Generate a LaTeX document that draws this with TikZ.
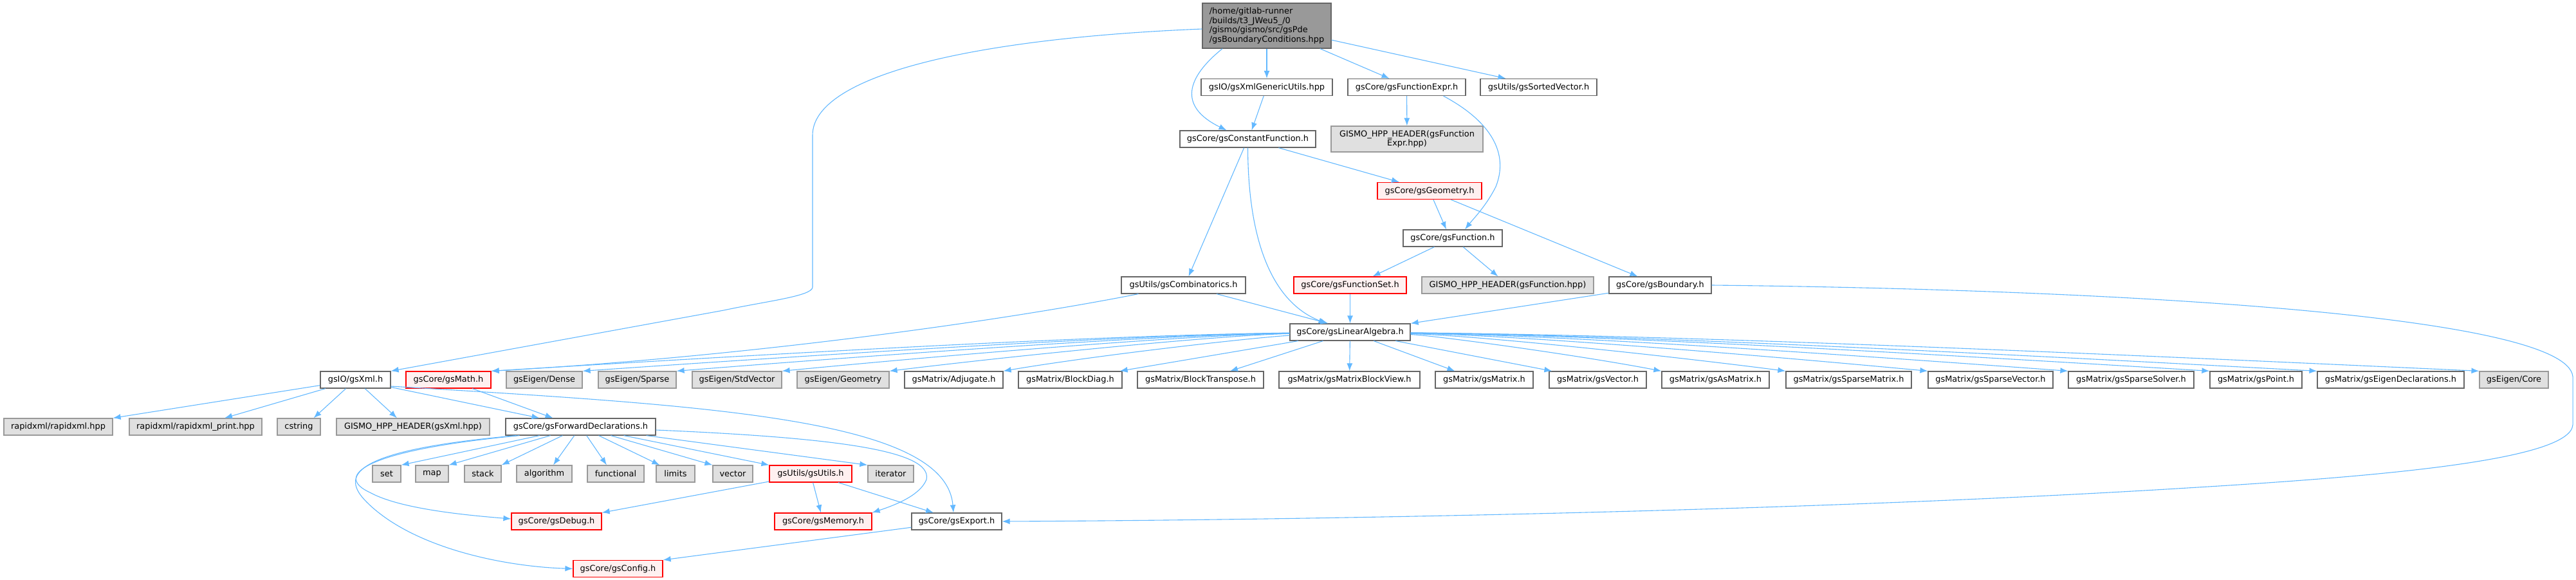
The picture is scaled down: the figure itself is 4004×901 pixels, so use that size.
\documentclass[tikz,border=0pt]{standalone}
\usepackage{fontspec}
\setmainfont{DejaVu Sans}
\usetikzlibrary{arrows.meta}
\definecolor{edgec}{HTML}{63B8FF}
\definecolor{bgray}{HTML}{666666}
\definecolor{extfill}{HTML}{E0E0E0}
\definecolor{extdraw}{HTML}{999999}
\definecolor{mainfill}{HTML}{999999}
\definecolor{redfill}{HTML}{FFF0F0}
\begin{document}
\begin{tikzpicture}[x=1pt,y=-1pt,
  base/.style={rectangle, inner sep=0pt, minimum height=26pt, line width=1.2pt, font=\fontsize{12.9}{14.6}\selectfont, anchor=center},
  std/.style={base, draw=bgray, fill=white},
  ext/.style={base, draw=extdraw, fill=extfill},
  trunc/.style={base, draw=red, fill=redfill},
  mainn/.style={base, draw=bgray, fill=mainfill, align=left},
  e/.style={draw=edgec, line width=1.1pt, -{Latex[length=12pt,width=9pt]}},
]
\useasboundingbox (0,0) rectangle (4004,901);
% row 0
\node[mainn, minimum width=200pt, minimum height=70pt] (m) at (1969,40) {/home/gitlab-runner\\/builds/t3\_JWeu5\_/0\\/gismo/gismo/src/gsPde\\/gsBoundaryConditions.hpp};
% row 1
\node[std, minimum width=204pt] (gxg) at (1969,135.5) {gsIO/gsXmlGenericUtils.hpp};
\node[std, minimum width=183pt] (fe) at (2186.5,135.5) {gsCore/gsFunctionExpr.h};
\node[std, minimum width=181pt] (sv) at (2391.5,135.5) {gsUtils/gsSortedVector.h};
% row 2
\node[std, minimum width=211pt] (cf) at (1939.5,216) {gsCore/gsConstantFunction.h};
\node[ext, minimum width=236pt, minimum height=40pt, align=center] (feh) at (2187,216) {GISMO\_HPP\_HEADER(gsFunction\\Expr.hpp)};
\node[trunc, minimum width=162pt] (geom) at (2222,296.5) {gsCore/gsGeometry.h};
\node[std, minimum width=154pt] (fn) at (2258,370) {gsCore/gsFunction.h};
\node[std, minimum width=193pt] (gc) at (1839.5,443) {gsUtils/gsCombinatorics.h};
\node[trunc, minimum width=175pt] (fs) at (2098.5,443) {gsCore/gsFunctionSet.h};
\node[ext, minimum width=267pt] (fnh) at (2343.5,443) {GISMO\_HPP\_HEADER(gsFunction.hpp)};
\node[std, minimum width=159pt] (bnd) at (2580.5,443) {gsCore/gsBoundary.h};
\node[std, minimum width=187pt] (la) at (2098.5,516) {gsCore/gsLinearAlgebra.h};
% row linear algebra children
\node[std, minimum width=109pt] (gx) at (552.5,590) {gsIO/gsXml.h};
\node[trunc, minimum width=132pt] (gm) at (697,590) {gsCore/gsMath.h};
\node[ext, minimum width=118pt] (dense) at (846,590) {gsEigen/Dense};
\node[ext, minimum width=121pt] (sparse) at (990.5,590) {gsEigen/Sparse};
\node[ext, minimum width=139pt] (stdv) at (1145.5,590) {gsEigen/StdVector};
\node[ext, minimum width=143pt] (geo) at (1310.5,590) {gsEigen/Geometry};
\node[std, minimum width=153pt] (adj) at (1482.5,590) {gsMatrix/Adjugate.h};
\node[std, minimum width=161pt] (bd) at (1663.5,590) {gsMatrix/BlockDiag.h};
\node[std, minimum width=196pt] (bt) at (1866,590) {gsMatrix/BlockTranspose.h};
\node[std, minimum width=219pt] (bv) at (2097.5,590) {gsMatrix/gsMatrixBlockView.h};
\node[std, minimum width=152pt] (gmat) at (2307,590) {gsMatrix/gsMatrix.h};
\node[std, minimum width=151pt] (gvec) at (2483.5,590) {gsMatrix/gsVector.h};
\node[std, minimum width=167pt] (gas) at (2666.5,590) {gsMatrix/gsAsMatrix.h};
\node[std, minimum width=195pt] (gsm) at (2873.5,590) {gsMatrix/gsSparseMatrix.h};
\node[std, minimum width=194pt] (gsv) at (3094,590) {gsMatrix/gsSparseVector.h};
\node[std, minimum width=195pt] (gss) at (3312.5,590) {gsMatrix/gsSparseSolver.h};
\node[std, minimum width=143pt] (gpt) at (3506.5,590) {gsMatrix/gsPoint.h};
\node[std, minimum width=228pt] (ged) at (3716,590) {gsMatrix/gsEigenDeclarations.h};
\node[ext, minimum width=107pt] (core) at (3907.5,590) {gsEigen/Core};
% gsXml children
\node[ext, minimum width=169pt] (rx) at (90.5,663) {rapidxml/rapidxml.hpp};
\node[ext, minimum width=206pt] (rxp) at (304,663) {rapidxml/rapidxml\_print.hpp};
\node[ext, minimum width=67pt] (cs) at (464.5,663) {cstring};
\node[ext, minimum width=238pt] (gxh) at (642,663) {GISMO\_HPP\_HEADER(gsXml.hpp)};
\node[std, minimum width=233pt] (fwd) at (902.5,663) {gsCore/gsForwardDeclarations.h};
% fwd children
\node[ext, minimum width=44pt] (set) at (601,736) {set};
\node[ext, minimum width=51pt] (map) at (671.5,736) {map};
\node[ext, minimum width=57pt] (stack) at (750.5,736) {stack};
\node[ext, minimum width=86pt] (alg) at (846,736) {algorithm};
\node[ext, minimum width=88pt] (fun) at (957,736) {functional};
\node[ext, minimum width=60pt] (lim) at (1050,736) {limits};
\node[ext, minimum width=62pt] (vec) at (1139,736) {vector};
\node[trunc, minimum width=128pt] (gu) at (1260,736) {gsUtils/gsUtils.h};
\node[ext, minimum width=71pt] (it) at (1384.5,736) {iterator};
\node[trunc, minimum width=140pt] (dbg) at (865,810) {gsCore/gsDebug.h};
\node[trunc, minimum width=151pt] (mem) at (1279.5,810) {gsCore/gsMemory.h};
\node[std, minimum width=140pt] (exp) at (1487,810) {gsCore/gsExport.h};
\node[trunc, minimum width=139pt] (cfg) at (960.5,883.5) {gsCore/gsConfig.h};

% edges from main
\draw[e] (m) -- (gxg);
\draw[e] ([xshift=-69pt]m.south) .. controls (1845,120) and (1830,165) .. ([xshift=-33pt]cf.north);
\draw[e] (m) -- ([xshift=-27pt]fe.north);
\draw[e] (m) -- ([xshift=-51pt]sv.north);
\draw[e] ([yshift=-5pt]m.west) .. controls (1500,60) and (1263,120) .. (1263,210) -- (1263,446) .. controls (1263,460) and (1190,468) .. (1125,482) -- (gx.north east);
% row 1/2
\draw[e] (gxg) -- ([xshift=6pt]cf.north);
\draw[e] (fe) -- (feh);
\draw[e] ([xshift=57pt]fe.south) .. controls (2320,190) and (2345,240) .. (2325,290) .. controls (2310,320) and (2290,340) .. ([xshift=19pt]fn.north);
\draw[e] (cf) -- ([xshift=-47pt]geom.north);
\draw[e] (cf) -- ([xshift=8pt]gc.north);
\draw[e] (cf.south) .. controls (1940,380) and (1980,470) .. ([xshift=-37pt]la.north);
\draw[e] (geom) -- ([xshift=-10pt]fn.north);
\draw[e] (geom) -- ([xshift=-35pt]bnd.north);
\draw[e] (fn) -- ([xshift=35pt]fs.north);
\draw[e] (fn) -- ([xshift=-15pt]fnh.north);
\draw[e] (gc) -- ([xshift=-34pt]la.north);
\draw[e] ([xshift=-70pt]gc.south) .. controls (1550,500) and (1150,555) .. (gm.north east);
\draw[e] (fs) -- (la);
\draw[e] (bnd) -- (la.north east);
\draw[e] (bnd.east) .. controls (3300,450) and (3990,490) .. (3999,585) -- (3999,660) .. controls (3995,715) and (3700,740) .. (3400,758) .. controls (2800,795) and (2000,808) .. (exp.east);
% linear algebra children
\draw[e] (la) .. controls +(-410,5) and +(410,-25) .. (gm.north east);
\draw[e] (la) .. controls +(-363,5) and +(363,-25) .. (dense.north east);
\draw[e] (la) .. controls +(-315,5) and +(315,-25) .. (sparse.north east);
\draw[e] (la) .. controls +(-260,5) and +(260,-25) .. (stdv.north east);
\draw[e] (la) .. controls +(-205,5) and +(205,-25) .. (geo.north east);
\draw[e] (la) .. controls +(-147,8) and +(147,-25) .. (adj.north east);
\draw[e] (la) -- ([xshift=-4pt]bd.north east);
\draw[e] (la) -- ([xshift=46pt]bt.north);
\draw[e] (la) -- (bv);
\draw[e] (la) -- ([xshift=31pt]gmat.north west);
\draw[e] (la) -- ([xshift=5pt]gvec.north west);
\draw[e] (la) .. controls +(130,5) and +(-130,-25) .. (gas.north west);
\draw[e] (la) .. controls +(193,5) and +(-193,-25) .. (gsm.north west);
\draw[e] (la) .. controls +(266,5) and +(-266,-25) .. (gsv.north west);
\draw[e] (la) .. controls +(338,5) and +(-338,-25) .. (gss.north west);
\draw[e] (la) .. controls +(410,5) and +(-410,-25) .. (gpt.north west);
\draw[e] (la) .. controls +(465,5) and +(-465,-25) .. (ged.north west);
\draw[e] (la) .. controls +(548,5) and +(-548,-25) .. (core.north west);
% gsXml children
\draw[e] (gx) -- (rx.north east);
\draw[e] (gx) -- ([xshift=45pt]rxp.north);
\draw[e] (gx) -- ([xshift=23pt]cs.north);
\draw[e] (gx) -- ([xshift=-25pt]gxh.north);
\draw[e] (gx) -- ([xshift=-64pt]fwd.north);
\draw[e] (gm) -- ([xshift=-43pt]fwd.north);
\draw[e] ([yshift=-10pt]gx.east) .. controls (1100,630) and (1470,650) .. ([xshift=-5pt]exp.north);
% forward declarations children
\draw[e] (fwd) -- (set.north east);
\draw[e] (fwd) -- (map.north east);
\draw[e] (fwd) -- (stack.north east);
\draw[e] (fwd) -- ([xshift=14pt]alg.north);
\draw[e] (fwd) -- ([xshift=-14pt]fun.north);
\draw[e] (fwd) -- ([xshift=6pt]lim.north west);
\draw[e] (fwd) -- (vec.north west);
\draw[e] (fwd) -- (gu.north west);
\draw[e] (fwd) -- (it.north west);
\draw[e] ([yshift=-5pt]fwd.east) .. controls (1300,680) and (1450,700) .. (1440,745) .. controls (1430,770) and (1390,785) .. (mem.north east);
\draw[e] ([xshift=-95pt]fwd.south) .. controls (560,700) and (520,740) .. (575,765) .. controls (620,790) and (720,800) .. ([yshift=4pt]dbg.west);
\draw[e] ([xshift=-100pt]fwd.south) .. controls (540,700) and (530,740) .. (570,780) .. controls (640,850) and (780,880) .. (cfg.west);
% gsUtils children
\draw[e] (gu) -- (dbg.north east);
\draw[e] (gu) -- (mem);
\draw[e] (gu) -- ([xshift=-36pt]exp.north);
\draw[e] (exp) -- (cfg.north east);
\end{tikzpicture}
\end{document}
